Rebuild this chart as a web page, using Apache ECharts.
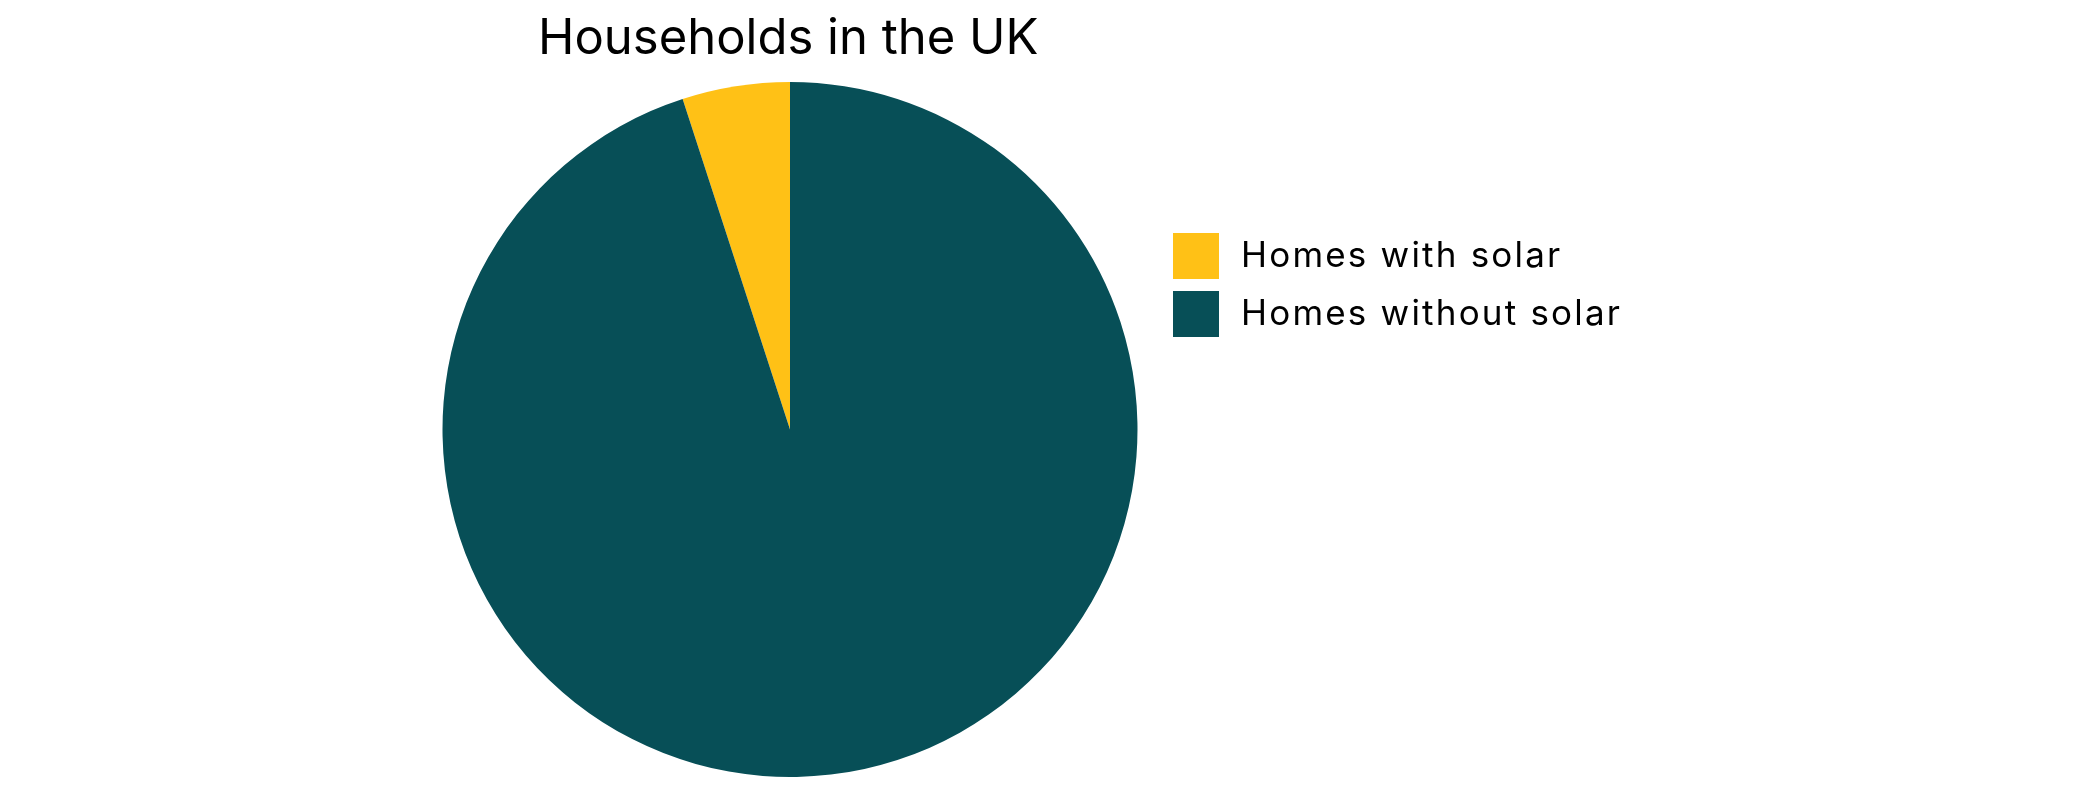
<!DOCTYPE html>
<html>
<head>
<meta charset="utf-8">
<script src="https://cdn.jsdelivr.net/npm/echarts@6/dist/echarts.min.js"></script>
<style>
  html, body { margin: 0; padding: 0; background: #fff; }
  #chart { width: 2082px; height: 792px; }
</style>
</head>
<body>
<div id="chart"></div>
<script>
// categories and values (percent of UK households)
var categories = ['Homes with solar', 'Homes without solar'];
var values = [5, 95];
var colors = ['#FFC116', '#074F57'];

// legend labels in the original are set a little looser than the title
var origFillText = CanvasRenderingContext2D.prototype.fillText;
CanvasRenderingContext2D.prototype.fillText = function (text, x, y, maxWidth) {
    var spaced = categories.indexOf(text) >= 0;
    var font = this.font;
    this.letterSpacing = spaced ? '2.2px' : '0px';
    this.font = font;
    var r = origFillText.apply(this, arguments);
    this.letterSpacing = '0px';
    this.font = font;
    return r;
};

var myChart = echarts.init(document.getElementById('chart'));

var pieData = [];
for (var i = 0; i < categories.length; i++) {
    pieData.push({ name: categories[i], value: values[i] });
}

var option = {
    color: colors,
    animation: false,
    title: {
        text: 'Households in the UK',
        left: 538,
        top: 15,
        padding: 0,
        textStyle: {
            fontFamily: 'Inter',
            fontSize: 49,
            fontWeight: 'normal',
            color: '#000'
        }
    },
    legend: {
        orient: 'vertical',
        left: 1173,
        top: 233,
        padding: 0,
        itemWidth: 46,
        itemHeight: 46,
        itemGap: 12,
        icon: 'rect',
        data: categories,
        textStyle: {
            fontFamily: 'Inter',
            fontSize: 35,
            color: '#000',
            padding: [0, 0, 0, 17]
        }
    },
    series: [
        {
            type: 'pie',
            center: [790, 429.5],
            radius: 347.5,
            startAngle: 90,
            clockwise: false,
            label: { show: false },
            labelLine: { show: false },
            emphasis: { disabled: true },
            itemStyle: { borderWidth: 0 },
            data: pieData
        }
    ]
};

myChart.setOption(option);
</script>
</body>
</html>
